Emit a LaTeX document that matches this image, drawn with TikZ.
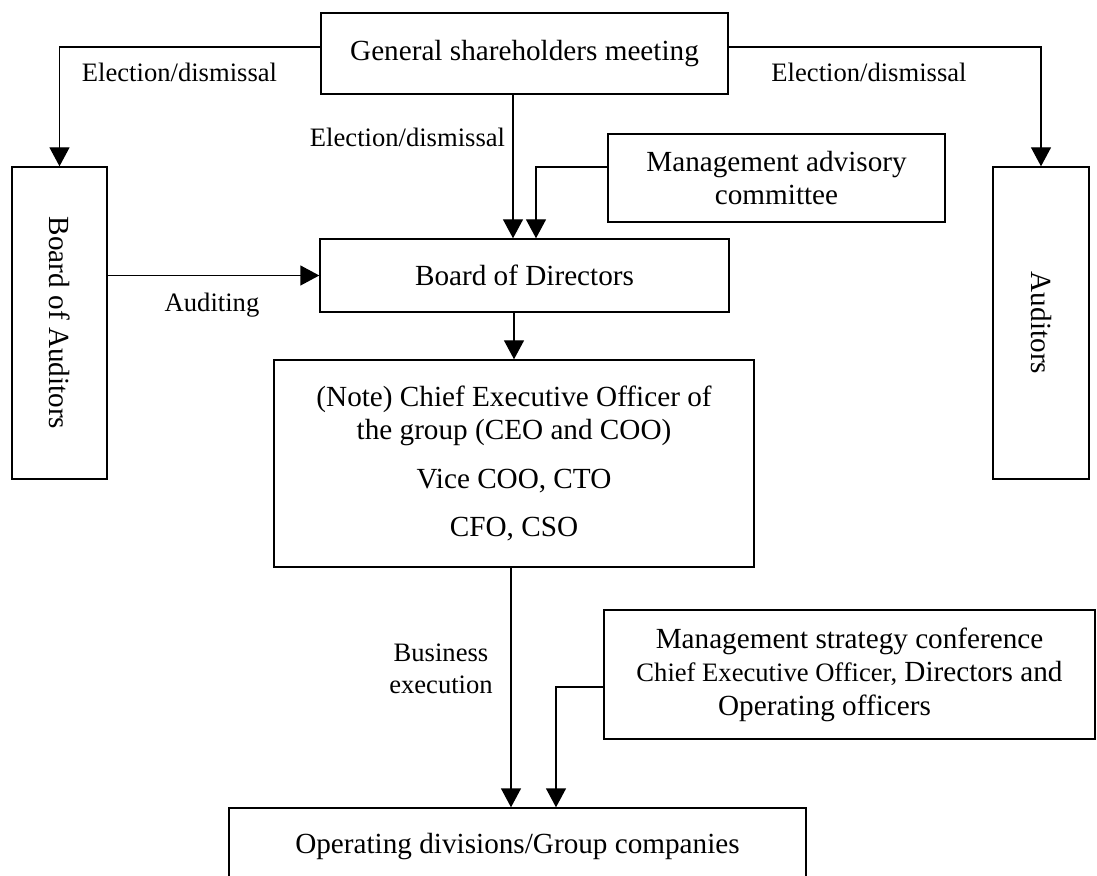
\documentclass[tikz,border=0pt]{standalone}
\usepackage{fontspec}
\setmainfont{Liberation Serif}
\usepackage{graphicx}
\usetikzlibrary{arrows.meta}
\tikzset{
  blk/.style={draw, line width=0.7pt, inner sep=0pt, align=center, font=\fontsize{14.6}{16.8}\selectfont},
  arr/.style={line width=0.7pt, -{Triangle[length=9.5pt,width=10pt]}},
  lbl/.style={inner sep=0pt, align=center, font=\fontsize{13.3}{16}\selectfont},
}
\begin{document}
\begin{tikzpicture}[x=0.5pt,y=-0.5pt]
            \useasboundingbox (0,0) rectangle (1097,876);
            % Les boites (haut)
            \node[blk, minimum width=203.5pt, minimum height=40.5pt] (gsm) at (524.5,53.5) {General shareholders meeting};
            \node[blk, minimum width=47.5pt, minimum height=156pt] (boa) at (59.5,323) {\rotatebox{-90}{Board of Auditors}};
            \node[blk, minimum width=48pt, minimum height=156pt] (aud) at (1041,323) {\rotatebox{-90}{Auditors}};
            \node[blk, minimum width=168.5pt, minimum height=44pt] (mac) at (776.5,178) {Management advisory\\committee};
            \node[blk, minimum width=204.5pt, minimum height=36.5pt] (bod) at (524.5,275.5) {Board of Directors};
            
            % Les boites (bas)
            \node[blk, minimum width=240pt, minimum height=103.5pt] (ceo) at (514,463.5)
                {(Note) Chief Executive Officer of\\the group (CEO and COO)\\[7.5pt]Vice COO, CTO\\[7.5pt]CFO, CSO};
            \node[blk, minimum width=245.5pt, minimum height=64.5pt] (msc) at (849.5,674.5)
                {Management strategy conference\\{\fontsize{13.3}{16}\selectfont Chief Executive Officer,} Directors and\\Operating officers\hspace*{25pt}};
            \node[blk, minimum width=288.5pt, minimum height=39pt] (odg) at (517.5,847) {Operating divisions/Group companies};
            
            % Les fleches
            \draw[arr] ([yshift=3.25pt]gsm.west) -| (boa.north);
            \draw[arr] ([yshift=3.25pt]gsm.east) -| (aud.north);
            \draw[arr] ([xshift=-5.75pt]gsm.south) -- ([xshift=-5.75pt]bod.north);
            \draw[arr] ([yshift=5.5pt]mac.west) -| ([xshift=5.75pt]bod.north);
            \draw[arr] (boa.east |- bod.west) -- (bod.west);
            \draw[arr] (bod.south -| ceo.north) -- (ceo.north);
            \draw[arr] ([xshift=-1.5pt]ceo.south) -- ([xshift=-3.25pt]odg.north);
            \draw[arr] ([yshift=-6.25pt]msc.west) -| ([xshift=19.25pt]odg.north);
            
            % Les textes des fleches
            \node[lbl] (el1) at (179.5,72) {Election/dismissal};
            \node[lbl] (el2) at (869,72) {Election/dismissal};
            \node[lbl] (el3) at (407.5,137) {Election/dismissal};
            \node[lbl] (aut) at (212,305) {Auditing};
            \node[lbl] (bex) at (441,669) {Business\\execution};
        \end{tikzpicture}
\end{document}
